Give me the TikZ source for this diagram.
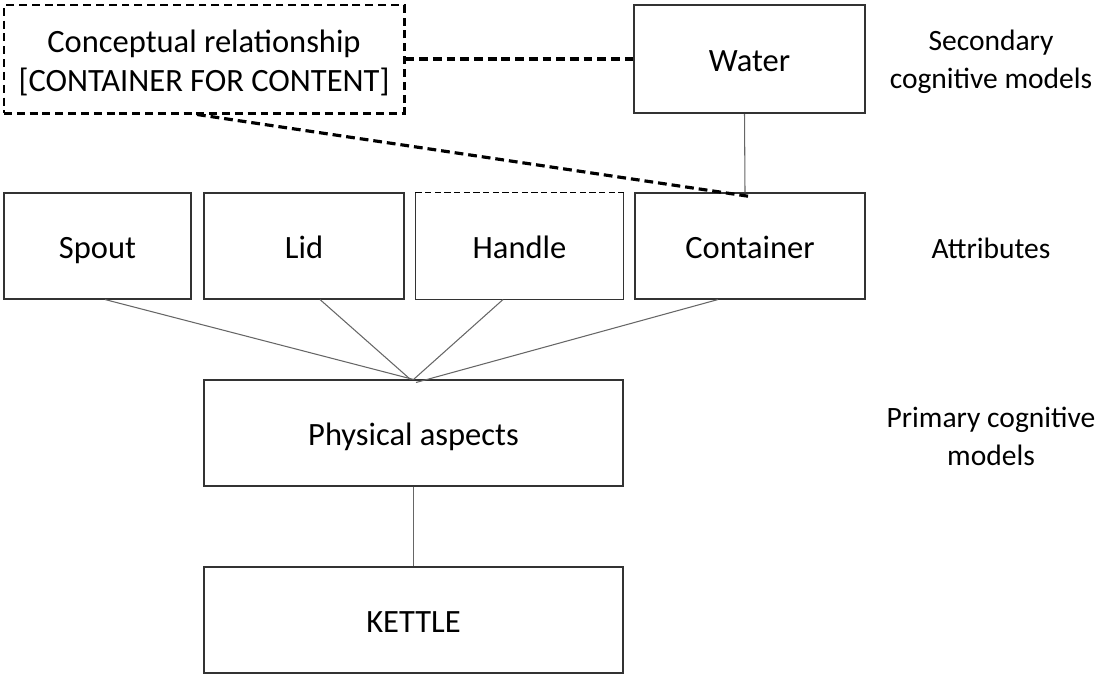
\documentclass[tikz,border=0pt]{standalone}
\usepackage{fontspec}
\setmainfont{Carlito}
\usetikzlibrary{positioning}

\begin{document}
\begin{tikzpicture}[
                  box/.style={draw=black!80, line width=0.6pt, inner sep=0pt, font=\fontsize{18.5}{22}\selectfont,
                              minimum height=2.12cm, text height=14.5pt, text depth=0pt, text centered},
                  dbox/.style={draw=black, line width=1.7pt, dash pattern=on 4.5pt off 2.8pt, inner sep=0pt,
                              font=\fontsize{18.5}{22}\selectfont, align=center},
                  lbl/.style={font=\fontsize{16.8}{21.5}\selectfont, align=center},
                  link/.style={draw=black!60, line width=0.6pt},
                  dlink/.style={line width=1.8pt, dash pattern=on 5pt off 2.8pt},
            ]
            \useasboundingbox (0,0) rectangle (21.92,-13.5);

            % ---- secondary models (TOP) ----
            \node[dbox, minimum width=8.0cm, minimum height=2.16cm] (concept) at (4.08, -1.18)
                  {\rule{0pt}{17.5pt}Conceptual relationship\\{}[CONTAINER FOR CONTENT]};
            \node[box, line width=1.3pt, minimum width=4.62cm, minimum height=2.16cm] (water) at (14.99, -1.18) {Water};

            % ---- attributes ----
            \node[box, minimum width=3.74cm] (spout)     at (1.95, -4.92)  {Spout};
            \node[box, minimum width=4.0cm]  (lid)       at (6.08, -4.92)  {Lid};
            \node[box, draw=none, minimum width=4.14cm] (handle) at (10.39, -4.92) {Handle};
            \node[box, minimum width=4.6cm]  (container) at (15.0, -4.92)  {Container};
            % handle box: dashed top edge
            \draw[black!80, line width=0.6pt] (handle.north west) -- (handle.south west)
                  -- (handle.south east) -- (handle.north east);
            \draw[black, line width=1pt, dash pattern=on 3.5pt off 2pt] (handle.north west) -- (handle.north east);

            % ---- primary models ----
            \node[box, minimum width=8.38cm] (physical) at (8.27, -8.66) {Physical aspects};
            \node[box, minimum width=8.38cm] (kettle)   at (8.27, -12.4) {KETTLE};

            % ---- level labels (RIGHT) ----
            \node[lbl] (secondary) at (19.82, -1.24) {Secondary\\cognitive models};
            \node[lbl] (attributes) at (19.82, -4.96) {Attributes};
            \node[lbl] (primary) at (19.82, -8.72) {Primary cognitive\\models};

            % ---- connectors ----
            \draw[dlink] (concept.east) -- (water.west);
            \draw[dlink] ([xshift=-0.14cm]concept.south) -- ([yshift=-0.08cm]container.north);
            \draw[link] ([xshift=-0.1cm]water.south) -- ([xshift=-0.1cm]container.north);
            \draw[link] ([xshift=0.15cm]spout.south) -- (physical.north);
            \draw[link] ([xshift=0.32cm]lid.south) -- ([xshift=-0.06cm]physical.north);
            \draw[link] ([xshift=-0.33cm]handle.south) -- (physical.north);
            \draw[link] ([xshift=-0.64cm]container.south) -- ([xshift=0.05cm, yshift=-0.06cm]physical.north);
            \draw[link] (physical.south) -- (kettle.north);

      \end{tikzpicture}
\end{document}
